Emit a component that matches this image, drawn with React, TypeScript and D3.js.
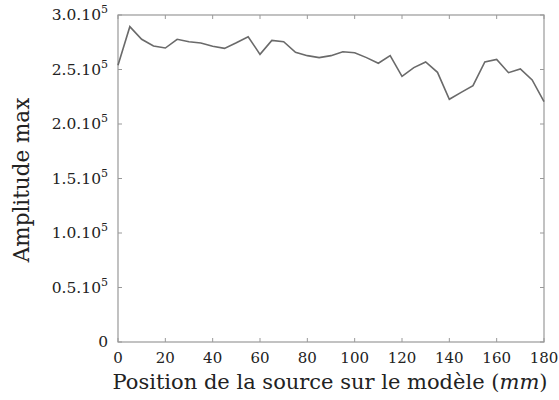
import * as d3 from "d3";

const positions = [
  0, 5, 10, 15, 20, 25, 30, 35, 40, 45, 50, 55, 60, 65, 70, 75, 80, 85, 90,
  95, 100, 105, 110, 115, 120, 125, 130, 135, 140, 145, 150, 155, 160, 165,
  170, 175, 180,
];
const amplitudes = [
  2.54, 2.893, 2.777, 2.716, 2.697, 2.777, 2.755, 2.743, 2.713, 2.694, 2.746,
  2.801, 2.639, 2.767, 2.755, 2.657, 2.627, 2.609, 2.627, 2.663, 2.654, 2.609,
  2.557, 2.627, 2.437, 2.517, 2.569, 2.474, 2.227, 2.29, 2.352, 2.569, 2.593,
  2.471, 2.505, 2.404, 2.205,
].map((v) => v * 1e5);

const xTicks = [0, 20, 40, 60, 80, 100, 120, 140, 160, 180];
const yTicks = [0, 0.5e5, 1.0e5, 1.5e5, 2.0e5, 2.5e5, 3.0e5];
const yTickLabels = ["0", "0.5.10", "1.0.10", "1.5.10", "2.0.10", "2.5.10", "3.0.10"];

const W = 559;
const H = 400;
const MARGIN = { top: 15, right: 15, bottom: 58, left: 118 };
const FONT = "'DejaVu Serif', serif";

export default function App() {
  const boundsWidth = W - MARGIN.left - MARGIN.right;
  const boundsHeight = H - MARGIN.top - MARGIN.bottom;
  const xScale = d3.scaleLinear().domain([0, 180]).range([0, boundsWidth]);
  const yScale = d3.scaleLinear().domain([0, 3e5]).range([boundsHeight, 0]);
  const line = d3
    .line<number>()
    .x((_, i) => xScale(positions[i]))
    .y((d) => yScale(d));

  const axisColor = "#999";
  const tickLen = 4;

  return (
    <svg
      width={W}
      height={H}
      style={{ position: "absolute", left: 0, top: 0, background: "#fff" }}
    >
      <g transform={`translate(${MARGIN.left},${MARGIN.top})`}>
        <rect
          x={0}
          y={0}
          width={boundsWidth}
          height={boundsHeight}
          fill="none"
          stroke={axisColor}
          strokeWidth={1.2}
        />
        {xTicks.map((t) => (
          <g key={"x" + t}>
            <line x1={xScale(t)} x2={xScale(t)} y1={boundsHeight} y2={boundsHeight - tickLen} stroke={axisColor} />
            <line x1={xScale(t)} x2={xScale(t)} y1={0} y2={tickLen} stroke={axisColor} />
            <text
              x={xScale(t)}
              y={boundsHeight + 21}
              textAnchor="middle"
              fontFamily={FONT}
              fontSize={15}
              fill="#222"
            >
              {t}
            </text>
          </g>
        ))}
        {yTicks.map((t, i) => (
          <g key={"y" + t}>
            <line x1={0} x2={tickLen} y1={yScale(t)} y2={yScale(t)} stroke={axisColor} />
            <line x1={boundsWidth} x2={boundsWidth - tickLen} y1={yScale(t)} y2={yScale(t)} stroke={axisColor} />
            <text
              x={-10}
              y={yScale(t) + 5}
              textAnchor="end"
              fontFamily={FONT}
              fontSize={15.5}
              fill="#222"
            >
              {yTickLabels[i]}
              {t !== 0 && (
                <tspan dy={-7} fontSize={11}>
                  5
                </tspan>
              )}
            </text>
          </g>
        ))}
        <path d={line(amplitudes) ?? ""} fill="none" stroke="#6a6a6a" strokeWidth={1.6} />
      </g>
      <text
        x={MARGIN.left + boundsWidth / 2 - 1}
        y={389}
        textAnchor="middle"
        fontFamily={FONT}
        fontSize={21}
        fill="#222"
      >
        Position de la source sur le modèle (<tspan fontStyle="italic">mm</tspan>)
      </text>
      <text
        transform="translate(29,180) rotate(-90)"
        textAnchor="middle"
        fontFamily={FONT}
        fontSize={21.5}
        fill="#222"
      >
        Amplitude max
      </text>
    </svg>
  );
}
